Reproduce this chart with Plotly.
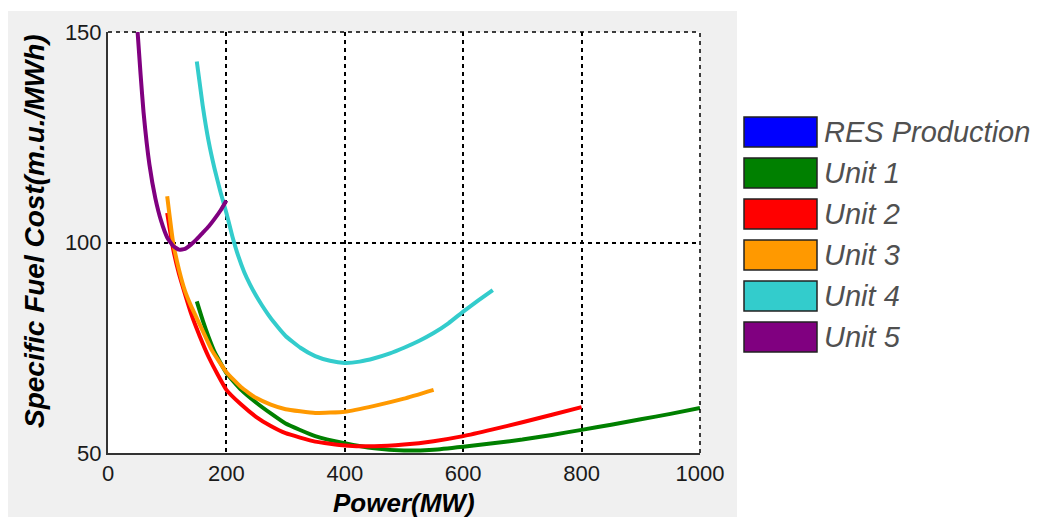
import plotly.graph_objects as go

# specific fuel cost curves (Power MW -> m.u./MWh)
unit1_x = [150, 160, 170, 180, 200, 225, 250, 275, 300, 350, 400, 450, 500, 550, 600, 650, 700, 750, 800, 850, 900, 950, 1000]
unit1_y = [86, 81.5, 77.5, 74, 69, 65, 62, 59.4, 57, 54, 52.3, 51.1, 50.6, 50.8, 51.5, 52.3, 53.2, 54.3, 55.5, 56.7, 58, 59.3, 60.7]

unit2_x = [100, 110, 120, 130, 140, 150, 160, 170, 185, 200, 225, 250, 275, 300, 350, 400, 450, 500, 550, 600, 650, 700, 750, 800]
unit2_y = [107, 98.5, 92.5, 87.8, 83.3, 79.5, 76, 72.8, 68.7, 65, 61.5, 58.6, 56.4, 54.7, 52.7, 51.8, 51.6, 52, 52.8, 54, 55.6, 57.3, 59.1, 60.9]

unit3_x = [100, 110, 120, 130, 140, 150, 160, 175, 200, 225, 250, 275, 300, 350, 400, 450, 500, 550]
unit3_y = [111, 100, 93.5, 88.5, 85, 82, 79, 74.5, 69.2, 65.6, 63.1, 61.5, 60.4, 59.5, 59.8, 61.2, 62.9, 65]

unit4_x = [150, 160, 170, 180, 190, 200, 210, 220, 230, 240, 250, 260, 270, 280, 300, 325, 350, 375, 400, 425, 450, 475, 500, 525, 550, 575, 600, 625, 650]
unit4_y = [143, 132.5, 124, 117.5, 112, 107, 101.5, 96.8, 93, 90, 87.4, 85.1, 83, 81.1, 77.8, 75, 73, 71.9, 71.4, 71.7, 72.5, 73.6, 75, 76.6, 78.5, 80.8, 83.6, 86.2, 88.7]

unit5_x = [50, 55, 60, 70, 80, 90, 100, 110, 120, 130, 140, 150, 160, 170, 180, 190, 200]
unit5_y = [150, 140, 131, 118.5, 110.5, 105, 101.2, 99.2, 98.3, 98.5, 99.5, 100.8, 102.3, 103.8, 105.6, 107.6, 110]

legend_names = ["RES Production", "Unit 1", "Unit 2", "Unit 3", "Unit 4", "Unit 5"]
legend_colors = ["#0000ff", "#008000", "#ff0000", "#ff9900", "#33cccc", "#800080"]

x_ticks = [0, 200, 400, 600, 800, 1000]
y_ticks = [50, 100, 150]

# page has an 8px body margin, so the figure sits at (8, 8)
OFF = 8
# plot area in page pixels: x 108..700, y 32..453
L, R, T, B = 108, 700, 32, 453
W, H = 1046, 517
pw, ph = R - L, B - T


def px(x):
    return (x - L) / pw


def py(y):
    return (B - y) / ph


fig = go.Figure()
series = [(unit1_x, unit1_y), (unit2_x, unit2_y), (unit3_x, unit3_y),
          (unit4_x, unit4_y), (unit5_x, unit5_y)]
for (xs, ys), name, col in zip(series, legend_names[1:], legend_colors[1:]):
    fig.add_trace(go.Scatter(x=xs, y=ys, name=name, mode="lines",
                             line=dict(color=col, width=4, shape="spline", smoothing=0.4)))

grid = dict(color="black", width=1.5, dash="4px,4px")
shapes = [
    # grey panel behind the axes, then white plotting area
    dict(type="rect", xref="paper", yref="paper", x0=px(8), x1=px(737), y0=py(540), y1=py(11),
         fillcolor="#f0f0f0", line=dict(width=0), layer="below"),
    dict(type="rect", xref="paper", yref="paper", x0=0, x1=1, y0=0, y1=1,
         fillcolor="white", line=dict(width=0), layer="below"),
    # dashed top and right frame
    dict(type="line", xref="paper", yref="paper", x0=0, x1=1, y0=1, y1=1, line=grid),
    dict(type="line", xref="paper", yref="paper", x0=1, x1=1, y0=0, y1=1, line=grid),
]
annotations = []
for i, (name, col) in enumerate(zip(legend_names, legend_colors)):
    cy = 132 + 41 * i
    shapes.append(dict(type="rect", xref="paper", yref="paper",
                       x0=px(744), x1=px(817), y0=py(cy + 15), y1=py(cy - 15),
                       fillcolor=col, line=dict(color="#222", width=1.5)))
    annotations.append(dict(x=px(822), y=py(cy), xref="paper", yref="paper", text="<i>%s</i>" % name,
                            showarrow=False, xanchor="left", yanchor="middle",
                            font=dict(size=29, color="#505050")))

annotations.append(dict(x=0.5, y=py(503), xref="paper", yref="paper", text="<b><i>Power(MW)</i></b>",
                        showarrow=False, xanchor="center", yanchor="middle",
                        font=dict(size=26, color="black")))
annotations.append(dict(x=px(34), y=py(231), xref="paper", yref="paper",
                        text="<b><i>Specific Fuel Cost(m.u./MWh)</i></b>", textangle=-90,
                        showarrow=False, xanchor="center", yanchor="middle",
                        font=dict(size=28, color="black")))

fig.update_layout(
    width=W, height=H,
    margin=dict(l=L - OFF, r=W - R + OFF, t=T - OFF, b=H - B + OFF),
    paper_bgcolor="white", plot_bgcolor="white",
    font=dict(family="Arial, Liberation Sans, sans-serif", color="#1a1a1a"),
    showlegend=False,
    shapes=shapes, annotations=annotations,
)
fig.update_xaxes(range=[0, 1000], tickvals=x_ticks, showgrid=True, gridcolor="black",
                 griddash="4px,4px", gridwidth=1.5, showline=True, linecolor="#333", linewidth=2,
                 zeroline=False, tickfont=dict(size=22), ticks="")
fig.update_yaxes(range=[50, 150], tickvals=y_ticks, showgrid=True, gridcolor="black",
                 griddash="4px,4px", gridwidth=1.5, showline=True, linecolor="#333", linewidth=2,
                 zeroline=False, tickfont=dict(size=22), ticks="")

fig.write_html("out.html")
